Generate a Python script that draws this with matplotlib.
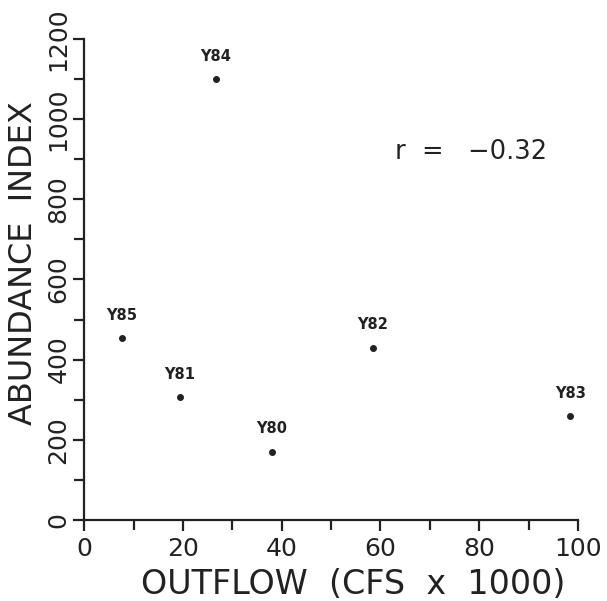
import numpy as np
import matplotlib.pyplot as plt
from matplotlib.ticker import MultipleLocator

plt.rcParams['font.family'] = ['DejaVu Sans']

# data
years = ['Y80', 'Y81', 'Y82', 'Y83', 'Y84', 'Y85']
outflow = [38.0, 19.4, 58.4, 98.5, 26.6, 7.6]
abundance = [170, 307, 430, 258, 1100, 453]
r_value = -0.32

fig = plt.figure(figsize=(6.07, 6.01), dpi=100)
ax = fig.add_axes([0.139, 0.135, 0.813, 0.800])

ax.plot(outflow, abundance, 'o', color='#222222', markersize=4, clip_on=False)

for name, x, y in zip(years, outflow, abundance):
    ax.annotate(name, (x, y), xytext=(0, 11), textcoords='offset points',
                ha='center', va='bottom', fontsize=10.5, fontweight='bold',
                color='#222222')

ax.text(78.3, 918, 'r  =   \u2212' + f'{abs(r_value):.2f}', ha='center',
        va='center', fontsize=18.5, color='#222222')

ax.set_xlim(0, 100)
ax.set_ylim(0, 1200)
ax.xaxis.set_major_locator(MultipleLocator(20))
ax.xaxis.set_minor_locator(MultipleLocator(10))
ax.yaxis.set_major_locator(MultipleLocator(200))
ax.yaxis.set_minor_locator(MultipleLocator(100))

for side in ['top', 'right']:
    ax.spines[side].set_visible(False)
for side in ['left', 'bottom']:
    ax.spines[side].set_linewidth(1.6)
    ax.spines[side].set_color('#222222')

ax.tick_params(which='both', direction='out', width=1.6, color='#222222',
               labelcolor='#222222', labelsize=18)
ax.tick_params(which='major', length=8)
ax.tick_params(which='minor', length=7)
ax.tick_params(axis='x', pad=4)
ax.tick_params(axis='y', pad=2)
plt.setp(ax.get_yticklabels(), rotation=90, va='center')

ax.set_xlabel('OUTFLOW  (CFS  x  1000)', fontsize=24, color='#222222')
ax.set_ylabel('ABUNDANCE  INDEX', fontsize=23, color='#222222')
ax.xaxis.set_label_coords(0.545, -0.1)
ax.yaxis.set_label_coords(-0.092, 0.534)

fig.savefig('out.png', dpi=100, facecolor='white')
